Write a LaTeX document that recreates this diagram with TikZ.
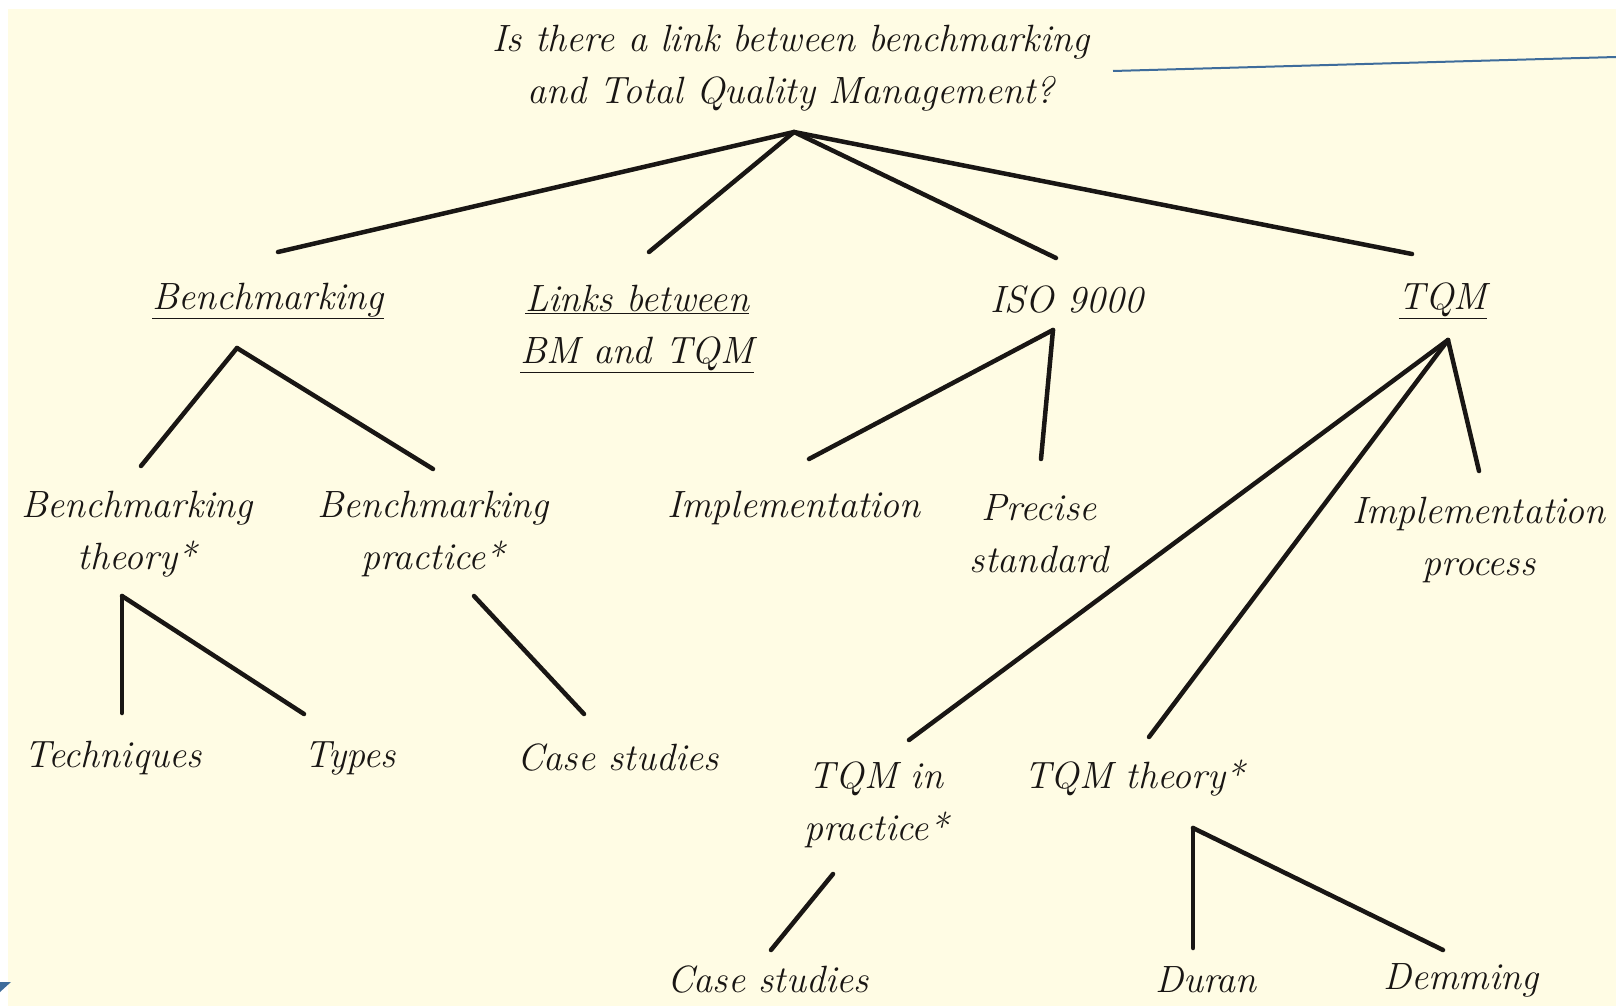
\documentclass[tikz,border=0pt]{standalone}
\usetikzlibrary{positioning}

\definecolor{paper}{RGB}{255,252,228}
\definecolor{navy}{RGB}{62,108,155}
\definecolor{ink}{RGB}{25,22,20}

\tikzset{
  topic/.style={font=\fontsize{38}{52}\selectfont\itshape, align=center, inner sep=0pt, text=ink},
  branch/.style={line width=4.5pt, line cap=round, draw=ink},
}

\begin{document}
\begin{tikzpicture}[x=1pt,y=-1pt]
\useasboundingbox (0,0) rectangle (1616,1006);
\fill[white] (0,0) rectangle (1616,1006);
\fill[paper] (8,9) rectangle (1616,1006);

% Question at the top
\node[topic] (q) at (791,68) {Is there a link between benchmarking\\and Total Quality Management?};
\draw[navy, line width=2pt] (1113,71) -- (1616,57);

% Second row
\node[topic] (bm) at (268,301) {\underline{Benchmarking}};
\node[topic] (links) at (637,329) {\underline{Links between}\\\underline{BM and TQM}};
\node[topic] (iso) at (1067,300) {ISO 9000};
\node[topic] (tqm) at (1443,301) {\underline{TQM}};

\draw[branch] ([shift={(3,64)}]q.center) -- ([shift={(10,-49)}]bm.center);
\draw[branch] ([shift={(3,64)}]q.center) -- ([shift={(12,-77)}]links.center);
\draw[branch] ([shift={(3,64)}]q.center) -- ([shift={(-11,-42)}]iso.center);
\draw[branch] ([shift={(3,64)}]q.center) -- ([shift={(-31,-47)}]tqm.center);

% Benchmarking branch
\node[topic] (bmt) at (137,534) {Benchmarking\\theory*};
\node[topic] (bmp) at (433,534) {Benchmarking\\practice*};
\draw[branch] ([shift={(-31,47)}]bm.center) -- ([shift={(4,-68)}]bmt.center);
\draw[branch] ([shift={(-31,47)}]bm.center) -- ([shift={(0,-65)}]bmp.center);

\node[topic] (tech) at (113,758) {Techniques};
\node[topic] (types) at (350,758) {Types};
\node[topic] (cs1) at (618,758) {Case studies};
\draw[branch] ([shift={(-15,62)}]bmt.center) -- ([shift={(9,-45)}]tech.center);
\draw[branch] ([shift={(-15,62)}]bmt.center) -- ([shift={(-46,-44)}]types.center);
\draw[branch] ([shift={(41,62)}]bmp.center) -- ([shift={(-34,-44)}]cs1.center);

% ISO 9000 branch
\node[topic] (impl) at (794,508) {Implementation};
\node[topic] (prec) at (1039,534) {Precise\\standard};
\draw[branch] ([shift={(-14,30)}]iso.center) -- ([shift={(15,-49)}]impl.center);
\draw[branch] ([shift={(-14,30)}]iso.center) -- ([shift={(2,-75)}]prec.center);

% TQM branch
\node[topic] (implp) at (1479,540) {Implementation\\process};
\node[topic] (tqmp) at (876,805) {TQM in\\practice*};
\node[topic] (tqmt) at (1134,778) {TQM theory*};
\draw[branch] ([shift={(5,39)}]tqm.center) -- ([shift={(0,-69)}]implp.center);
\draw[branch] ([shift={(5,39)}]tqm.center) -- ([shift={(33,-65)}]tqmp.center);
\draw[branch] ([shift={(5,39)}]tqm.center) -- ([shift={(15,-41)}]tqmt.center);

\node[topic] (cs2) at (768,980) {Case studies};
\node[topic] (duran) at (1206,980) {Duran};
\node[topic] (demming) at (1461,980) {Demming};
\draw[branch] ([shift={(-43,69)}]tqmp.center) -- ([shift={(3,-30)}]cs2.center);
\draw[branch] ([shift={(59,50)}]tqmt.center) -- ([shift={(-13,-32)}]duran.center);
\draw[branch] ([shift={(59,50)}]tqmt.center) -- ([shift={(-18,-30)}]demming.center);

% corner mark
\fill[navy] (0,982) -- (11,982) -- (0,992) -- cycle;
\end{tikzpicture}
\end{document}
